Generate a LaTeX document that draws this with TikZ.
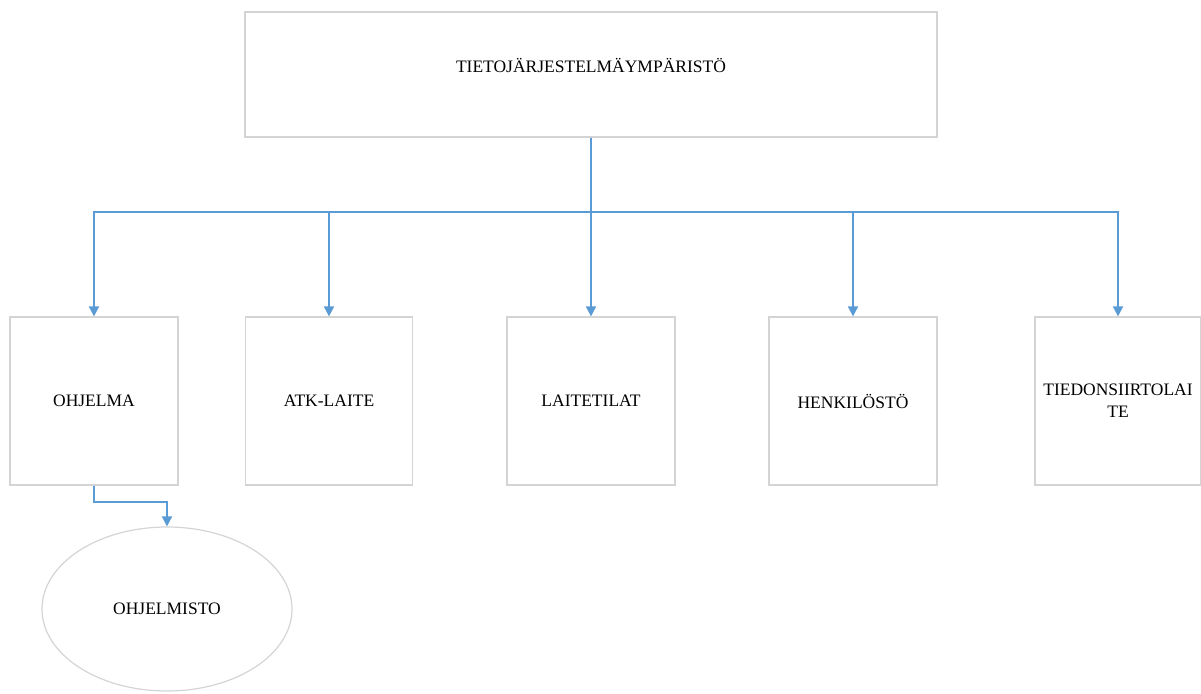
\documentclass[tikz,border=0pt]{standalone}
\usepackage{fontspec}
\setmainfont{Liberation Serif}
\usetikzlibrary{arrows.meta,shapes.geometric}
\definecolor{edgegray}{HTML}{D4D4D4}
\definecolor{linkblue}{HTML}{5B9BD5}
\tikzset{
  unitbox/.style={draw=edgegray, line width=1.2pt, fill=white, inner sep=0pt,
    minimum width=168, minimum height=168, align=center,
    font=\fontsize{17.5}{22}\selectfont},
  link/.style={draw=linkblue, line width=1.8pt,
    -{Triangle[width=10pt,length=10pt]}},
  trunk/.style={draw=linkblue, line width=1.8pt}
}
\begin{document}
\begin{tikzpicture}[x=1pt,y=-1pt]
  \useasboundingbox (0,0) rectangle (1201,693);
  % root box
  \node[unitbox, minimum width=692, minimum height=125] (root) at (591,74.5)
    {\raisebox{2.5pt}[0pt][0pt]{TIETOJÄRJESTELMÄYMPÄRISTÖ}};
  % second level
  \node[unitbox] (ohjelma) at (94,401) {OHJELMA};
  \node[unitbox, minimum width=167] (atk) at (329,401) {ATK-LAITE};
  \node[unitbox] (tilat) at (591,401) {LAITETILAT};
  \node[unitbox] (henk) at (853,401) {HENKILÖSTÖ};
  \node[unitbox, minimum width=166] (tiedon) at (1118,401) {TIEDONSIIRTOLAI\\TE};
  % third level
  \node[ellipse, draw=edgegray, line width=1.2pt, inner sep=0pt,
    minimum width=250, minimum height=164,
    font=\fontsize{17.5}{22}\selectfont] (ohjelmisto) at (167,609) {OHJELMISTO};
  % connectors
  \draw[trunk] (root.south) -- ++(0,74);
  \foreach \n in {ohjelma,atk,tilat,henk,tiedon}
    \draw[link] (root.south) -- ++(0,74) -| (\n.north);
  \draw[link] (ohjelma.south) -- ++(0,16) -| (ohjelmisto.north);
\end{tikzpicture}
\end{document}
